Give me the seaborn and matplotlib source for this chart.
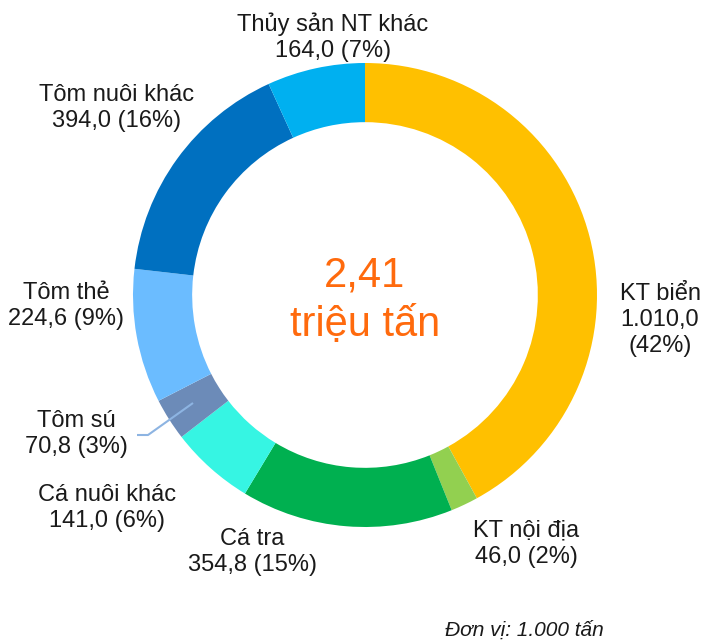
# ==============================
# IMPORT LIBRARIES
# ==============================
import matplotlib
matplotlib.use('Agg')
import matplotlib.pyplot as plt
import seaborn as sns


# ==============================
# DATA
# ==============================
CATEGORIES = [
    'KT biển',
    'KT nội địa',
    'Cá tra',
    'Cá nuôi khác',
    'Tôm sú',
    'Tôm thẻ',
    'Tôm nuôi khác',
    'Thủy sản NT khác',
]

VALUE_TEXT = ['1.010,0', '46,0', '354,8', '141,0', '70,8', '224,6', '394,0', '164,0']
VALUES = [1010.0, 46.0, 354.8, 141.0, 70.8, 224.6, 394.0, 164.0]
PERCENTS = [42, 2, 15, 6, 3, 9, 16, 7]

TOTAL_TEXT = '2,41'
TOTAL_UNIT = 'triệu tấn'
UNIT_NOTE = 'Đơn vị: 1.000 tấn'


# ==============================
# STYLE / LAYOUT
# ==============================
COLORS = ['#FFC000', '#92D050', '#00B050', '#36F5E3',
          '#6C8BB8', '#6BBCFF', '#0070C0', '#00B0F0']

W, H = 701, 640
CENTER = (365, H - 295)
RADIUS = 232
RING = 0.255

# label block centres in pixels (x, y from top)
LABEL_POS = [(660, 320), (526, 544), (252, 552), (107, 508),
             (76, 434), (66, 306), (117, 108), (333, 37)]
# KT biển label is split on three lines
LABEL_FMT = ['{n}\n{v}\n({p}%)'] + ['{n}\n{v} ({p}%)'] * 7

FONT = ['Liberation Sans', 'DejaVu Sans']


# ==============================
# DRAW
# ==============================
sns.set_theme(style='white')
plt.rcParams['font.family'] = FONT

fig = plt.figure(figsize=(W / 100, H / 100), dpi=100)
ax = fig.add_axes([0, 0, 1, 1])

palette = sns.color_palette(COLORS)
ax.pie(VALUES, colors=palette, startangle=90, counterclock=False,
       center=CENTER, radius=RADIUS,
       wedgeprops=dict(width=RADIUS * RING, linewidth=0))

for name, vt, pct, fmt, (lx, ly) in zip(CATEGORIES, VALUE_TEXT, PERCENTS,
                                         LABEL_FMT, LABEL_POS):
    ax.text(lx, H - ly, fmt.format(n=name, v=vt, p=pct),
            ha='center', va='center', multialignment='center',
            fontsize=17, color='#1a1a1a', linespacing=1.25)

# leader line for Tôm sú
ax.plot([137, 148, 193], [H - 435, H - 435, H - 403],
        color='#8DB4E2', linewidth=1.5, solid_capstyle='butt')

# total in the middle
ax.text(CENTER[0], H - 275, TOTAL_TEXT, ha='center', va='center',
        fontsize=30, color='#FF6A0D')
ax.text(CENTER[0], H - 325, TOTAL_UNIT, ha='center', va='center',
        fontsize=30, color='#FF6A0D')

ax.text(524, H - 630, UNIT_NOTE, ha='center', va='center',
        fontsize=15, style='italic', color='#1a1a1a')

ax.set_xlim(0, W)
ax.set_ylim(0, H)
ax.set_aspect('equal')
ax.axis('off')

plt.savefig('out.png', dpi=100)
